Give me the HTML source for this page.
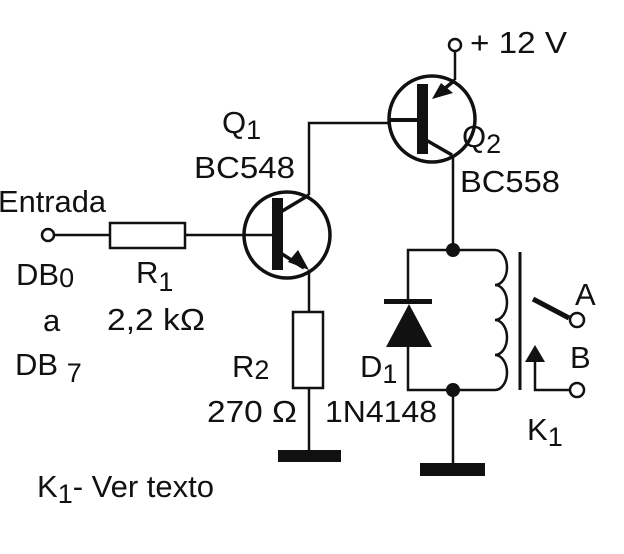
<!DOCTYPE html><html><head><style>body{margin:0;background:#fff}svg{display:block}text{font-family:"Liberation Sans",sans-serif;font-size:31px;fill:#111}</style></head><body>
<svg width="624" height="554" viewBox="0 0 624 554" xmlns="http://www.w3.org/2000/svg">
<g stroke="#111" stroke-width="2.5" fill="none">
<circle cx="48" cy="235" r="6"/><line x1="54" y1="235" x2="110" y2="235"/>
<rect x="110" y="223" width="75" height="25"/><line x1="185" y1="235" x2="277" y2="235"/>
<circle cx="287" cy="235" r="43" stroke-width="3.5"/>
<line x1="279" y1="213" x2="309" y2="195" stroke-width="3.5"/><polyline points="309,195 309,123 388,123"/>
<line x1="279" y1="252" x2="304" y2="268" stroke-width="3.5"/><line x1="309" y1="270" x2="309" y2="312"/>
<rect x="293" y="312" width="30" height="76"/><line x1="309" y1="388" x2="309" y2="455"/>
<circle cx="432" cy="119" r="43" stroke-width="3.5"/>
<line x1="388" y1="120" x2="420" y2="120" stroke-width="4"/>
<circle cx="455" cy="45" r="6"/><line x1="455" y1="51" x2="455" y2="80"/>
<line x1="455" y1="80" x2="438" y2="94" stroke-width="3.5"/>
<line x1="426" y1="140" x2="452" y2="155" stroke-width="3.5"/><line x1="453" y1="155" x2="453" y2="250"/>
<polyline points="408,302 408,250 495,250"/><polyline points="408,347 408,390 495,390"/>
<line x1="453" y1="390" x2="453" y2="466"/>
<path d="M495,250 a12,17.5 0 0 1 0,35 a12,17.5 0 0 1 0,35 a12,17.5 0 0 1 0,35 a12,17.5 0 0 1 0,35"/>
<line x1="520" y1="252" x2="520" y2="390" stroke-width="3"/>
<line x1="533" y1="299" x2="569" y2="318" stroke-width="5"/>
<circle cx="577" cy="320" r="7"/><circle cx="577" cy="390" r="7"/>
<polyline points="535,360 535,390 570,390"/>
</g>
<g fill="#111">
<rect x="272" y="198" width="11" height="72"/>
<rect x="417" y="84" width="11" height="70"/>
<polygon points="288,262 309,270 298,250"/>
<polygon points="432,99 453,93 441,83"/>
<rect x="278" y="450" width="63" height="12"/>
<rect x="420" y="463" width="65" height="13"/>
<circle cx="453" cy="250" r="7"/><circle cx="453" cy="390" r="7"/>
<rect x="384" y="299" width="48" height="5"/>
<polygon points="386,347 432,347 409,304"/>
<polygon points="525,362 545,362 535,345"/>
</g>
<text x="-2" y="212" textLength="108" lengthAdjust="spacingAndGlyphs">Entrada</text>
<text x="16" y="285">DB<tspan font-size="27" dy="2">0</tspan></text>
<text x="43" y="331">a</text>
<text x="15" y="375">DB <tspan font-size="27" dy="7">7</tspan></text>
<text x="136" y="283">R<tspan font-size="27" dy="8">1</tspan></text>
<text x="107" y="330" textLength="98" lengthAdjust="spacingAndGlyphs">2,2 kΩ</text>
<text x="222" y="133">Q<tspan font-size="27" dy="6">1</tspan></text>
<text x="194" y="178" textLength="101" lengthAdjust="spacingAndGlyphs">BC548</text>
<text x="470" y="53" textLength="97" lengthAdjust="spacingAndGlyphs">+ 12 V</text>
<text x="462" y="147">Q<tspan font-size="27" dy="6">2</tspan></text>
<text x="460" y="192" textLength="100" lengthAdjust="spacingAndGlyphs">BC558</text>
<text x="232" y="377">R<tspan font-size="27" dy="2">2</tspan></text>
<text x="207" y="422" textLength="90" lengthAdjust="spacingAndGlyphs">270 Ω</text>
<text x="360" y="377">D<tspan font-size="27" dy="6">1</tspan></text>
<text x="325" y="422" textLength="112" lengthAdjust="spacingAndGlyphs">1N4148</text>
<text x="575" y="305">A</text>
<text x="570" y="368">B</text>
<text x="527" y="440">K<tspan font-size="27" dy="6">1</tspan></text>
<text x="37" y="497">K<tspan font-size="27" dy="6">1</tspan><tspan dy="-6">- Ver texto</tspan></text>
</svg></body></html>
